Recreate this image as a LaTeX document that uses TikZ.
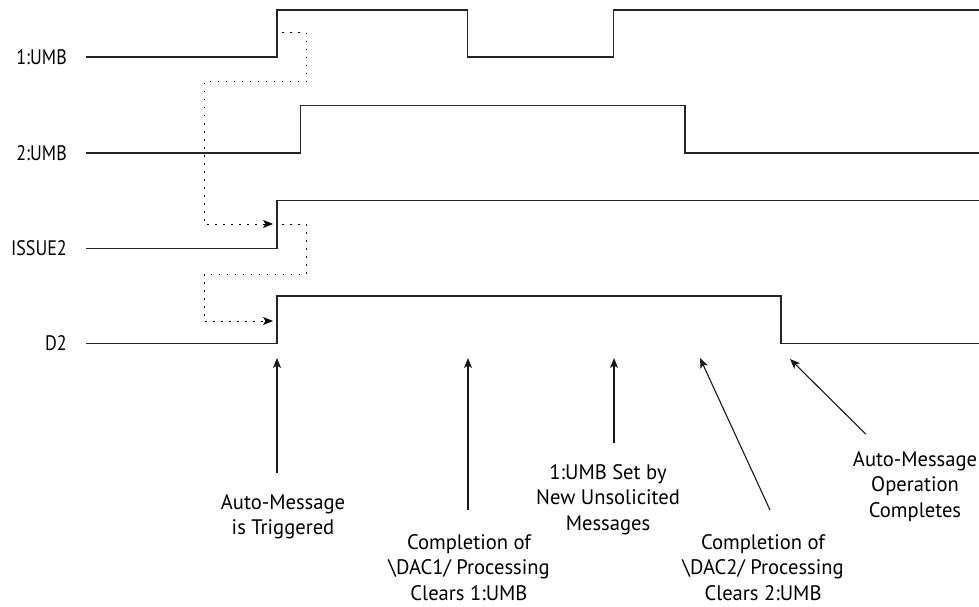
\documentclass[tikz,border=0pt]{standalone}
\usepackage{fontspec}
\setmainfont{PT Sans}[FakeStretch=0.86]
\newfontfamily\notefont{PT Sans}[FakeStretch=0.98]
\usetikzlibrary{arrows.meta}
\begin{document}
\begin{tikzpicture}[x=1pt,y=-1pt,
  wave/.style={line width=1.3pt, line join=miter, black!85},
  sig/.style={anchor=east, inner sep=0pt, font=\fontsize{21}{26}\selectfont},
  note/.style={align=center, anchor=north, inner sep=0pt, font=\notefont\fontsize{21}{25.5}\selectfont},
  tip/.style={-{Stealth[length=10pt,width=8pt,inset=2.5pt]}},
  pointer/.style={tip, line width=1.1pt, black!90},
  hop/.style={tip, line width=1pt, dash pattern=on 1.5pt off 6.5pt}]
\useasboundingbox (0,0) rectangle (979,607);

% signal names
\node[sig] (umb1) at (67,57) {1:UMB};
\node[sig] (umb2) at (67,153) {2:UMB};
\node[sig] (iss2) at (67,248) {ISSUE2};
\node[sig] (d2)   at (67,343) {D2};

% waveforms
\draw[wave] (86,57) -- (277,57) |- (467.7,10) |- (613.7,57) |- (979,10);
\draw[wave] (86,153) -- (300.7,153) |- (685,105.3) |- (979,153);
\draw[wave] (86,248.3) -- (277,248.3) |- (979,200.7);
\draw[wave] (86,343.3) -- (277,343.3) |- (781,296) |- (979,343.3);

% causality hops
\coordinate (h1s) at (282,33);
\coordinate (h1e) at (273,224);
\coordinate (h2s) at (282,224);
\coordinate (h2e) at (273,321);
\draw[hop] (h1s) -- (306,33) -- (306,82) -- (204,82) -- (204,224) -- (h1e);
\draw[hop] (h2s) -- (306,224) -- (306,274) -- (204,274) -- (204,321) -- (h2e);

% event notes
\node[note] (n1) at (283,494) {Auto-Message\\is Triggered};
\node[note] (n2) at (469,534) {Completion of\\\textbackslash DAC1/ Processing\\Clears 1:UMB};
\node[note] (n3) at (608,464) {1:UMB Set by\\New Unsolicited\\Messages};
\node[note] (n4) at (763,534) {Completion of\\\textbackslash DAC2/ Processing\\Clears 2:UMB};
\node[note] (n5) at (915,451) {Auto-Message\\Operation\\Completes};

% event pointers
\coordinate (p1s) at (277,473);   \coordinate (p1e) at (277,358);
\coordinate (p2s) at (468,510);   \coordinate (p2e) at (468,358);
\coordinate (p3s) at (614,443);   \coordinate (p3e) at (614,358);
\coordinate (p4s) at (770,510);   \coordinate (p4e) at (700,358);
\coordinate (p5s) at (865.7,434); \coordinate (p5e) at (790,359);
\draw[pointer] (p1s) -- (p1e);
\draw[pointer] (p2s) -- (p2e);
\draw[pointer] (p3s) -- (p3e);
\draw[pointer] (p4s) -- (p4e);
\draw[pointer] (p5s) -- (p5e);
\end{tikzpicture}
\end{document}
